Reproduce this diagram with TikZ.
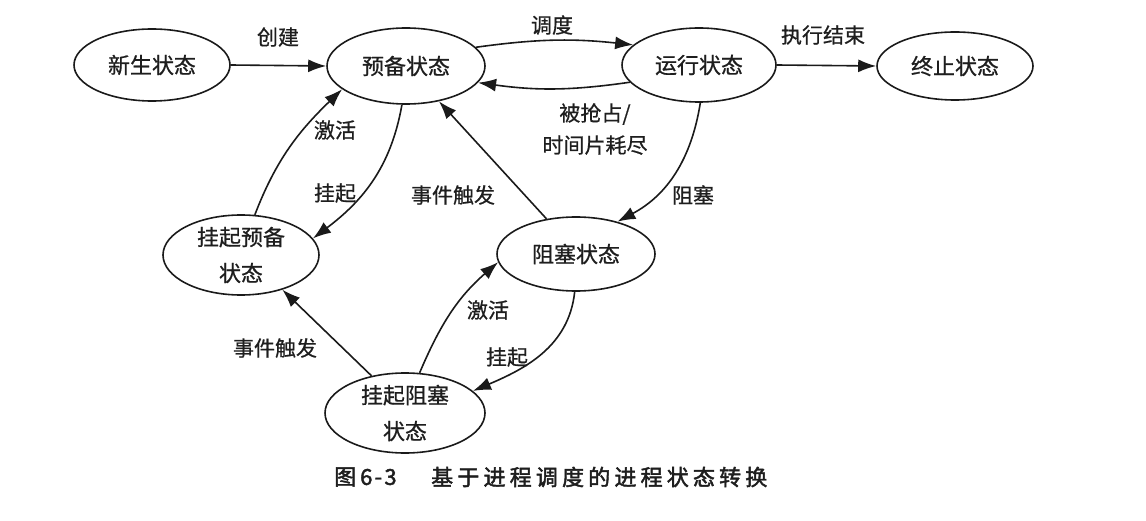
\documentclass[tikz,border=0pt]{standalone}
\usepackage{fontspec}
\setmainfont{Noto Sans CJK SC}
\newfontfamily\mf{Noto Sans CJK SC}[FakeBold=0.7]
\newfontfamily\capfont{Noto Sans CJK SC}[LetterSpace=19,FakeBold=2]
\newfontfamily\capfontb{Noto Sans CJK SC}[LetterSpace=10,FakeBold=2]
\usetikzlibrary{arrows.meta,shapes.geometric}
\definecolor{linec}{HTML}{1A1A1A}
\definecolor{textc}{HTML}{1E1E1E}
\begin{document}
\begin{tikzpicture}[x=1pt,y=1pt,
  st/.style={ellipse,draw=linec,line width=1.6pt,inner sep=0pt,text=textc,
    font=\fontsize{22}{36}\mf,align=center},
  lbl/.style={text=textc,font=\fontsize{21}{32}\mf,inner sep=0pt,align=center},
  arr/.style={draw=linec,line width=1.6pt,-{Latex[length=18pt,width=13pt]}}]
\useasboundingbox (0,0) rectangle (1146,-521);
% states
\node[st,minimum width=156pt,minimum height=72pt] (xs) at (152,-65) {新生状态};
\node[st,minimum width=158pt,minimum height=76pt] (yb) at (406,-66) {预备状态};
\node[st,minimum width=154pt,minimum height=74pt] (yx) at (699,-65) {运行状态};
\node[st,minimum width=156pt,minimum height=68pt] (zz) at (955,-66) {终止状态};
\node[st,minimum width=156pt,minimum height=80pt] (gyb) at (241,-255) {挂起预备\\状态};
\node[st,minimum width=158pt,minimum height=74pt] (zs) at (576,-254) {阻塞状态};
\node[st,minimum width=160pt,minimum height=80pt] (gzs) at (405,-413) {挂起阻塞\\状态};
% connectors
\draw[arr] (xs.east) -- (yb.west);
\draw[arr] (yb.15) to[bend left=7] (yx.163);
\draw[arr] (yx.194) to[bend left=8] (yb.-13);
\draw[arr] (yx.east) -- (zz.west);
\draw[arr] (yx.272) to[out=-99,in=28] (zs.38);
\draw[arr] (zs.130) -- (yb.-47);
\draw[arr] (yb.264) to[out=260,in=37] (gyb.13);
\draw[arr] (gyb.71) to[out=69,in=224] (yb.200);
\draw[arr] (gzs.132) -- (gyb.-40);
\draw[arr] (gzs.70) to[out=67,in=221] (zs.186);
\draw[arr] (zs.268) to[out=264,in=23] (gzs.18);
% labels
\node[lbl] (l1) at (278,-37) {创建};
\node[lbl] (l2) at (552,-25) {调度};
\node[lbl] (l3) at (823,-35) {执行结束};
\node[lbl] (l4) at (595,-129) {被抢占/\\时间片耗尽};
\node[lbl] (l5) at (693,-195) {阻塞};
\node[lbl] (l6) at (453,-195) {事件触发};
\node[lbl] (l7) at (335,-130) {激活};
\node[lbl] (l8) at (335,-193) {挂起};
\node[lbl] (l9) at (275,-348) {事件触发};
\node[lbl] (l10) at (488,-310) {激活};
\node[lbl] (l11) at (507,-357) {挂起};
% caption
\node[text=textc,inner sep=0pt,anchor=west,font=\fontsize{22}{24}\capfontb] (c1) at (334,-477) {图\hspace{4pt}6-3};
\node[text=textc,inner sep=0pt,anchor=west,font=\fontsize{22}{24}\capfont] (c2) at (431,-477) {基于进程调度的进程状态转换};
\end{tikzpicture}
\end{document}
